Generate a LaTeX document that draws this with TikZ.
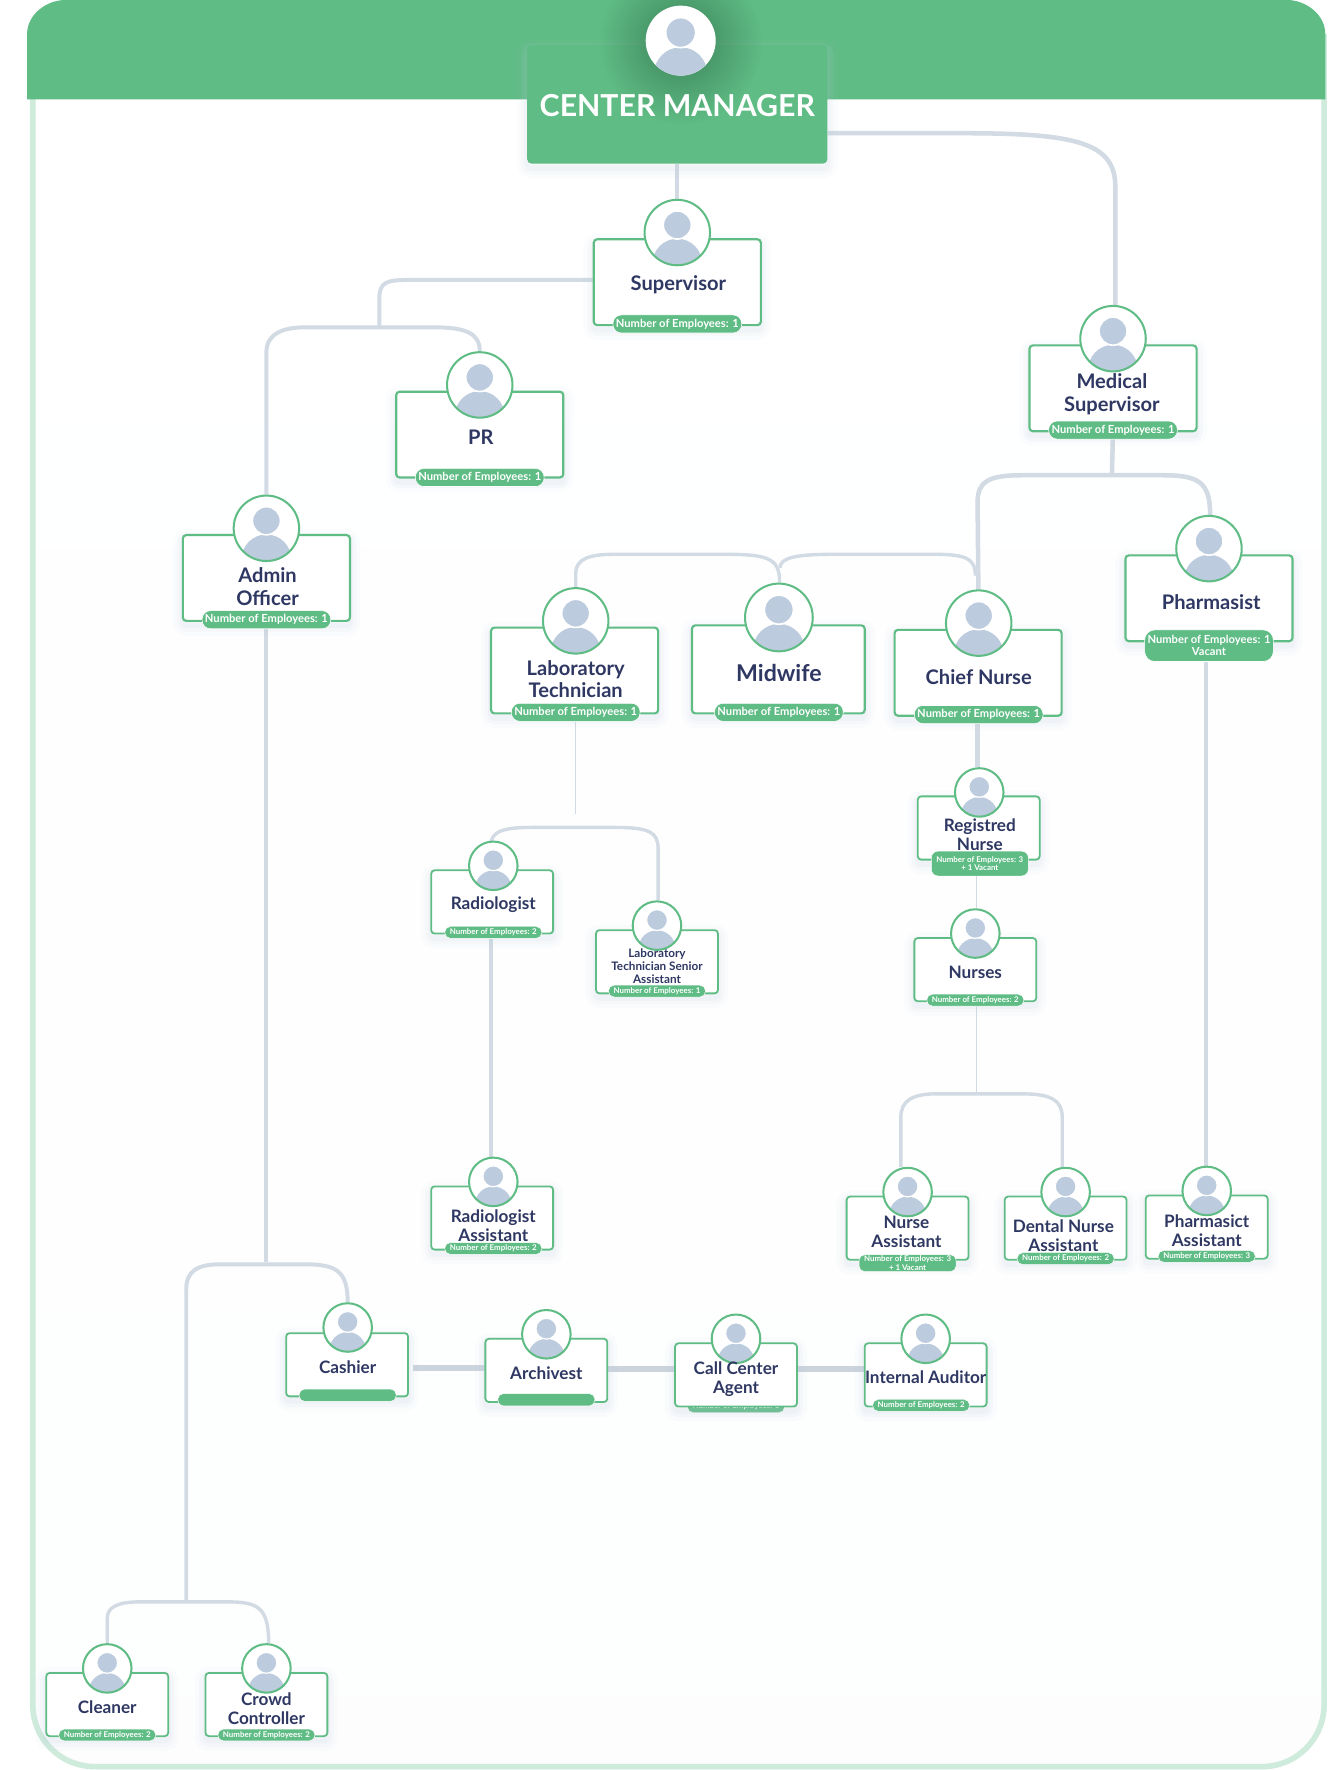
\documentclass[tikz,border=0pt]{standalone}
\usepackage{fontspec}
\setmainfont{Lato}
\usetikzlibrary{backgrounds,fadings}
\definecolor{leaf}{HTML}{5FBC84}
\definecolor{leafdark}{HTML}{2F6E4A}
\definecolor{frameline}{HTML}{CEEBDB}
\definecolor{wirecol}{HTML}{D2DAE3}
\definecolor{wirebar}{HTML}{CBD4DC}
\definecolor{slate}{HTML}{BCCBDD}
\definecolor{navy}{HTML}{2F3863}
\tikzfading[name=glow,inner color=transparent!0,outer color=transparent!100]
\tikzset{
  softshade/.style={
    preaction={draw=slate,opacity=.05,line width=18pt,transform canvas={yshift=-4pt}},
    preaction={draw=slate,opacity=.07,line width=11pt,transform canvas={yshift=-4pt}},
    preaction={draw=slate,opacity=.10,line width=5pt,transform canvas={yshift=-4pt}}},
  person/.style={rectangle,draw=leaf,line width=1.9pt,rounded corners=3pt,fill=white,inner sep=0pt,softshade},
  big/.style={person,minimum width=148pt,minimum height=76pt},
  small/.style={person,minimum width=108pt,minimum height=56pt,line width=1.6pt},
  avatar/.style={circle,draw=leaf,line width=1.8pt,fill=white,inner sep=0pt,minimum size=2*#1 pt,
    path picture={
      \begin{scope}[shift={(path picture bounding box.center)},x=#1pt,y=-#1pt]
      \fill[slate] (0,0.95) ellipse (0.76 and 0.76);
      \fill[slate,draw=white,line width=0.05*#1 pt] (0,-0.23) circle (0.43);
      \end{scope}}},
  title/.style={text=navy,align=center,inner sep=0pt,font=\bfseries\fontsize{17.8}{20}\selectfont},
  titlesm/.style={text=navy,align=center,inner sep=0pt,font=\bfseries\fontsize{15.2}{17}\selectfont},
  pill/.style={fill=leaf,draw=white,line width=0.5pt,rounded corners=7.5pt,text=white,align=center,inner sep=0pt,
    minimum width=114pt,minimum height=16pt,font=\bfseries\fontsize{9.9}{10.5}\selectfont},
  pillsm/.style={fill=leaf,draw=white,line width=0.4pt,rounded corners=5pt,text=white,align=center,inner sep=0pt,
    minimum width=86pt,minimum height=10.5pt,font=\bfseries\fontsize{7}{7.4}\selectfont},
  wire/.style={draw=wirecol,line width=#1pt},
  wire/.default=3.5
}
\begin{document}
\begin{tikzpicture}[x=1pt,y=-1pt]
\useasboundingbox (0,0) rectangle (1190,1568);
% frame and header
\begin{pgfonlayer}{background}
\fill[white] (0,0) rectangle (1190,1568);
\fill[top color=white,bottom color=white!97!slate,rounded corners=55pt] (29,-20) rectangle (1173,1565);
\draw[frameline,line width=5pt,rounded corners=55pt] (29,-20) rectangle (1173,1565);
\fill[white] (0,-30) rectangle (1190,30);
\fill[leaf] (24,88) -- (24,30) .. controls (24,13) and (41,0) .. (58,0) -- (1140,0) .. controls (1157,0) and (1174,13) .. (1174,30) -- (1174,88) -- cycle;
\end{pgfonlayer}
% center manager
\node[fill=leaf,rounded corners=4pt,minimum width=266pt,minimum height=105pt,inner sep=0pt,softshade] (cm) at (600,92.5) {};
\fill[leafdark,path fading=glow,opacity=.75] (603,38) circle (72);
\node[text=white,inner sep=0pt,font=\bfseries\fontsize{26.8}{30}\selectfont] (cmT) at (600,93.5) {CENTER MANAGER};
\node[avatar=31,draw=none] (cmA) at (603,36) {};
% big cards
\node[big] (sup) at (600,250) {};
\node[avatar=29] (supA) at (600,206) {};
\node[title] (supT) at (601,252.5) {Supervisor};
\node[pill] (supP) at (600,287) {Number of Employees: 1};
\node[big] (med) at (986,344) {};
\node[avatar=29] (medA) at (986,300) {};
\node[title] (medT) at (985,349) {Medical\\Supervisor};
\node[pill] (medP) at (986,381) {Number of Employees: 1};
\node[big] (pr) at (425,385) {};
\node[avatar=29] (prA) at (425,341) {};
\node[title] (prT) at (426,387.5) {PR};
\node[pill] (prP) at (425,423) {Number of Employees: 1};
\node[big] (adm) at (236,512) {};
\node[avatar=29] (admA) at (236,468) {};
\node[title] (admT) at (237,519.5) {Admin\\Officer};
\node[pill] (admP) at (236,549) {Number of Employees: 1};
\node[big] (lab) at (509,594) {};
\node[avatar=29] (labA) at (510,550) {};
\node[title] (labT) at (510,601.5) {Laboratory\\Technician};
\node[pill] (labP) at (510,631) {Number of Employees: 1};
\node[big,minimum width=153pt,minimum height=78pt] (mid) at (689.5,593) {};
\node[avatar=30] (midA) at (690,547) {};
\node[title,font=\bfseries\fontsize{20.5}{24}\selectfont] (midT) at (690,596) {Midwife};
\node[pill] (midP) at (690,631) {Number of Employees: 1};
\node[big] (chf) at (866.5,596) {};
\node[avatar=29] (chfA) at (867,552) {};
\node[title] (chfT) at (867,600) {Chief Nurse};
\node[pill] (chfP) at (867,633) {Number of Employees: 1};
\node[big] (pha) at (1071,530) {};
\node[avatar=29] (phaA) at (1071,486) {};
\node[title] (phaT) at (1073,533.5) {Pharmasist};
\node[pill,minimum height=28pt,rounded corners=9pt] (phaP) at (1071,572) {Number of Employees: 1\\Vacant};
% small cards
\node[small] (reg) at (867,733.5) {};
\node[avatar=21.5] (regA) at (867.5,702) {};
\node[titlesm] (regT) at (868,739.5) {Registred\\Nurse};
\node[pillsm,minimum height=22pt,rounded corners=6pt,font=\bfseries\fontsize{7}{7.6}\selectfont] (regP) at (868,765) {Number of Employees: 3\\+ 1 Vacant};
\node[small] (rad) at (436,799) {};
\node[avatar=21.5] (radA) at (437,767) {};
\node[titlesm] (radT) at (437,801.5) {Radiologist};
\node[pillsm] (radP) at (437,826) {Number of Employees: 2};
\node[small] (sen) at (582,852) {};
\node[avatar=21.5] (senA) at (582,820) {};
\node[titlesm,font=\bfseries\fontsize{10.4}{11.4}\selectfont] (senT) at (582,856) {Laboratory\\Technician Senior\\Assistant};
\node[pillsm] (senP) at (582,878) {Number of Employees: 1};
\node[small] (nur) at (864,859) {};
\node[avatar=21.5] (nurA) at (864,827) {};
\node[titlesm] (nurT) at (864,861.5) {Nurses};
\node[pillsm] (nurP) at (864,886) {Number of Employees: 2};
\node[small] (raa) at (436,1079) {};
\node[avatar=21.5] (raaA) at (437,1047) {};
\node[titlesm] (raaT) at (437,1085.5) {Radiologist\\Assistant};
\node[pillsm] (raaP) at (437,1106) {Number of Employees: 2};
\node[small] (nua) at (804,1088) {};
\node[avatar=21.5] (nuaA) at (804,1056) {};
\node[titlesm] (nuaT) at (803,1091.5) {Nurse\\Assistant};
\node[pillsm,minimum height=15pt] (nuaP) at (804,1119) {Number of Employees: 3\\+ 1 Vacant};
\node[small] (den) at (944,1088) {};
\node[avatar=21.5] (denA) at (944,1056) {};
\node[titlesm] (denT) at (942,1094.5) {Dental Nurse\\Assistant};
\node[pillsm] (denP) at (944,1115) {Number of Employees: 2};
\node[small] (phs) at (1069,1087) {};
\node[avatar=21.5] (phsA) at (1069,1055) {};
\node[titlesm] (phsT) at (1069,1090.5) {Pharmasict\\Assistant};
\node[pillsm] (phsP) at (1069,1113) {Number of Employees: 3};
% bottom row
\node[small] (cas) at (307.5,1209) {};
\node[avatar=21.5] (casA) at (308,1176) {};
\node[titlesm] (casT) at (308,1211) {Cashier};
\node[pillsm,minimum height=11pt] (casP) at (308,1236) {};
\node[small] (arc) at (484,1214) {};
\node[avatar=21.5] (arcA) at (484,1182) {};
\node[titlesm] (arcT) at (484,1216.5) {Archivest};
\node[pillsm,minimum height=11pt] (arcP) at (484,1240) {};
\node[pillsm,minimum height=11pt] (calP) at (652,1246) {Number of Employees: 1};
\node[small] (cal) at (652,1218) {};
\node[avatar=21.5] (calA) at (652,1186) {};
\node[titlesm] (calT) at (652,1222) {Call Center\\Agent};
\node[small] (aud) at (820,1218) {};
\node[avatar=21.5] (audA) at (820,1186) {};
\node[titlesm] (audT) at (820,1220) {Internal Auditor};
\node[pillsm] (audP) at (816,1245) {Number of Employees: 2};
\node[small] (cle) at (95,1510) {};
\node[avatar=21.5] (cleA) at (95,1478) {};
\node[titlesm] (cleT) at (95,1512) {Cleaner};
\node[pillsm] (cleP) at (95,1537) {Number of Employees: 2};
\node[small] (cro) at (236,1510) {};
\node[avatar=21.5] (croA) at (236,1478) {};
\node[titlesm] (croT) at (236,1513.5) {Crowd\\Controller};
\node[pillsm] (croP) at (236,1537) {Number of Employees: 2};
% junctions
\coordinate (jCm) at (850,118);
\coordinate (jSup) at (336,290);
\coordinate (jAdm) at (236,1118);
\coordinate (jLow) at (165,1419);
\coordinate (jMed) at (985,421);
\coordinate (jMid) at (691,503);
\coordinate (jLab) at (510,721);
\coordinate (jNur) at (865,969);
% connectors
\begin{pgfonlayer}{background}
\draw[wire=3.5] (cm.south -| supA) -- (supA);
\draw[wire=4] (cm.east |- jCm) -- (jCm) .. controls (950,118) and (988,125) .. (988,165) -- (988,272);
\draw[wire] (sup.west |- 0,248) -- (362,248) .. controls (342,248) and (336,250) .. (336,265) -- (jSup);
\draw[wire] (admA) -- (236,312) .. controls (236,296) and (250,290) .. (270,290) -- (385,290) .. controls (412,290) and (425,295) .. (prA);
\draw[wire] (admP) -- (jAdm);
\draw[wire] (jLow) -- (165,1142) .. controls (165,1126) and (175,1120) .. (195,1120) -- (270,1120) .. controls (298,1120) and (308,1126) .. (casA);
\draw[wire=5,draw=wirebar] (366,1212) -- (arc.west |- 0,1212);
\draw[wire=5,draw=wirebar] (arc.east |- 0,1213) -- (cal.west |- 0,1213);
\draw[wire=5,draw=wirebar] (cal.east |- 0,1213) -- (aud.west |- 0,1213);
\draw[wire=3] (cleA) -- (95,1434) .. controls (95,1423) and (105,1419) .. (125,1419) -- (200,1419) .. controls (228,1419) and (238,1423) .. (croA.north -| 238,0);
\draw[wire=4] (medP) -- (jMed);
\draw[wire=4] (chfA) -- (866,445) .. controls (866,427) and (875,421) .. (905,421) -- (1030,421) .. controls (1062,421) and (1072,427) .. (phaA.north -| 1072,0);
\draw[wire=3] (labA) -- (510,508) .. controls (510,495) and (522,491) .. (545,491) -- (640,491) .. controls (680,491) and (691,494) .. (midA);
\draw[wire=3] (jMid) .. controls (691,494) and (705,491) .. (740,491) -- (825,491) .. controls (855,491) and (864,494) .. (864,510);
\draw[wire=1] (labP) -- (jLab);
\draw[wire=3] (radA.north -| 435,0) -- (435,748) .. controls (435,737) and (445,733) .. (470,733) -- (545,733) .. controls (575,733) and (583,737) .. (583,752) -- (senA.north -| 583,0);
\draw[wire] (radP.south -| 435,0) -- (raaA.north -| 435,0);
\draw[wire=5] (chfP.south -| 866,0) -- (regA.north -| 866,0);
\draw[wire=1] (regP.south -| 865,0) -- (nurA.north -| 865,0);
\draw[wire=1] (nurP.south -| 865,0) -- (jNur);
\draw[wire=3] (nuaA.north -| 798,0) -- (798,990) .. controls (798,975) and (808,969) .. (830,969) -- (905,969) .. controls (932,969) and (941,975) .. (941,990) -- (denA.north -| 941,0);
\draw[wire] (phaP.south -| 1068,0) -- (phsA.north -| 1068,0);
\end{pgfonlayer}
\end{tikzpicture}
\end{document}
